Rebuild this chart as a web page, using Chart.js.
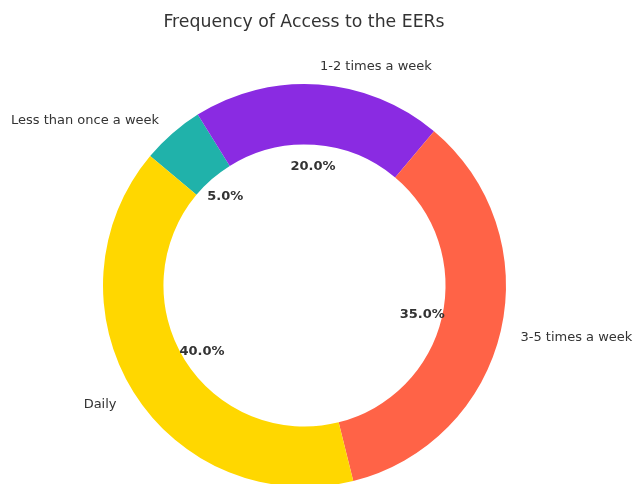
<!DOCTYPE html>
<html>
<head>
<meta charset="utf-8">
<title>Frequency of Access to the EERs</title>
<script src="https://cdn.jsdelivr.net/npm/chart.js@4.4.1/dist/chart.umd.min.js"></script>
<style>
  html, body { margin: 0; padding: 0; background: #fff; overflow: hidden; }
  #wrap { position: absolute; left: 0; top: 0; width: 635px; height: 500px; }
</style>
</head>
<body>
<div id="wrap"><canvas id="grafico"></canvas></div>
<script>
// ---- dados (ordem horária, a partir do topo-esquerdo) ----
const categorias = ['Less than once a week', '1-2 times a week', '3-5 times a week', 'Daily'];
const percentuais = [5, 20, 35, 40];
const cores = ['#20B2AA', '#8A2BE2', '#FF6347', '#FFD700'];
const titulo = 'Frequency of Access to the EERs';

const FONTE = '"DejaVu Sans", sans-serif';
const COR_TEXTO = '#333333';

// Rótulos externos, percentuais internos e título
const rotulosPlugin = {
  id: 'rotulos',
  afterDatasetsDraw(chart) {
    const ctx = chart.ctx;
    const arcs = chart.getDatasetMeta(0).data;
    ctx.save();
    ctx.fillStyle = COR_TEXTO;
    ctx.textBaseline = 'middle';

    arcs.forEach((arc, i) => {
      const meio = (arc.startAngle + arc.endAngle) / 2;
      const cx = arc.x, cy = arc.y + 2, r = arc.outerRadius;
      const cos = Math.cos(meio), sin = Math.sin(meio);

      // nome da categoria a 1.1 do raio
      ctx.font = '13px ' + FONTE;
      ctx.textAlign = cos >= 0 ? 'left' : 'right';
      ctx.fillText(categorias[i], cx + cos * r * 1.1, cy + sin * r * 1.1);

      // percentual a 0.6 do raio
      ctx.font = 'bold 13px ' + FONTE;
      ctx.textAlign = 'center';
      ctx.fillText(percentuais[i].toFixed(1) + '%', cx + cos * r * 0.6, cy + sin * r * 0.6);
    });

    ctx.font = '17.3px ' + FONTE;
    ctx.textAlign = 'center';
    ctx.fillText(titulo, 304, 23);
    ctx.restore();
  }
};

new Chart(document.getElementById('grafico'), {
  type: 'doughnut',
  data: {
    labels: categorias,
    datasets: [{
      data: percentuais,
      backgroundColor: cores,
      borderWidth: 0
    }]
  },
  options: {
    responsive: true,
    maintainAspectRatio: false,
    animation: false,
    rotation: -50,
    cutout: '70%',
    layout: { padding: { left: 103, right: 129, top: 84, bottom: 13 } },
    plugins: {
      legend: { display: false },
      tooltip: { enabled: false },
      title: { display: false }
    }
  },
  plugins: [rotulosPlugin]
});
</script>
</body>
</html>
